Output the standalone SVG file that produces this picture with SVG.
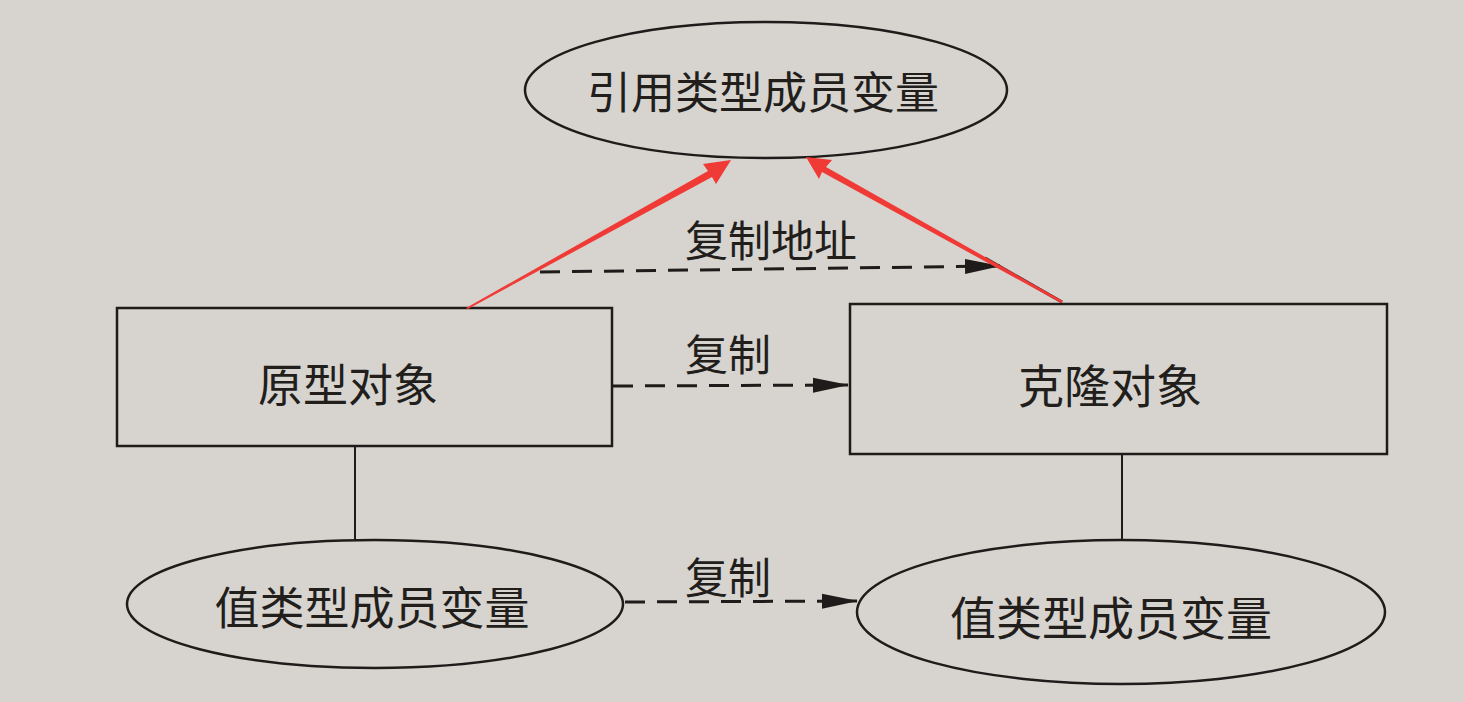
<svg xmlns="http://www.w3.org/2000/svg" width="1464" height="702" viewBox="0 0 1464 702">
<defs>
<style>
.shape{fill:none;stroke:#1e1b1a;stroke-width:2.5}
.t{font-family:"Noto Sans CJK SC","Noto Sans CJK JP",sans-serif;fill:#211e1c;text-anchor:middle;dominant-baseline:central}
.dash{stroke:#1e1b1a;stroke-width:3;stroke-dasharray:20 12;fill:none}
.solid{stroke:#1e1b1a;stroke-width:2;fill:none}
.red{fill:#f03a36}
</style>
<marker id="ah" markerWidth="36" markerHeight="18" refX="35" refY="9" orient="auto" markerUnits="userSpaceOnUse">
<path d="M0,1.5 L36,9 L0,16.5 Z" fill="#1e1b1a"/>
</marker>
</defs>
<rect width="1464" height="702" fill="#d7d3ce"/>
<g id="ref-var">
<ellipse class="shape" cx="766" cy="90" rx="241" ry="68"/>
<text class="t" x="763" y="90" font-size="44">引用类型成员变量</text>
</g>
<g id="proto">
<rect class="shape" x="117" y="308" width="495" height="138"/>
<text class="t" x="348" y="382" font-size="45">原型对象</text>
</g>
<g id="clone">
<rect class="shape" x="850" y="304" width="537" height="150"/>
<text class="t" x="1110" y="383" font-size="46">克隆对象</text>
</g>
<g id="val-left">
<ellipse class="shape" cx="375" cy="604" rx="248" ry="64"/>
<text class="t" x="372" y="605" font-size="45">值类型成员变量</text>
</g>
<g id="val-right">
<ellipse class="shape" cx="1121" cy="612" rx="264" ry="72"/>
<text class="t" x="1111" y="615" font-size="46">值类型成员变量</text>
</g>
<g id="connectors">
<line class="solid" x1="355" y1="446" x2="355" y2="540"/>
<line class="solid" x1="1122" y1="454" x2="1122" y2="540"/>
<line class="dash" x1="540" y1="272" x2="1000" y2="266" marker-end="url(#ah)"/>
<line class="dash" x1="613" y1="386" x2="848" y2="385" marker-end="url(#ah)"/>
<line class="dash" x1="625" y1="602" x2="857" y2="601" marker-end="url(#ah)"/>
<line x1="1062" y1="302" x2="985" y2="258" stroke="#1e1b1a" stroke-width="3"/>
<path class="red" d="M466,308 L468,309 L712,177 L716,184 L731,160 L703,164 L708,171 Z"/>
<path class="red" d="M1063,301 L1061,303 L822,172 L819,179 L806,157 L832,160 L826,167 Z"/>
<text class="t" x="771" y="238" font-size="43">复制地址</text>
<text class="t" x="728" y="352" font-size="43">复制</text>
<text class="t" x="728" y="575" font-size="43">复制</text>
</g>
</svg>
